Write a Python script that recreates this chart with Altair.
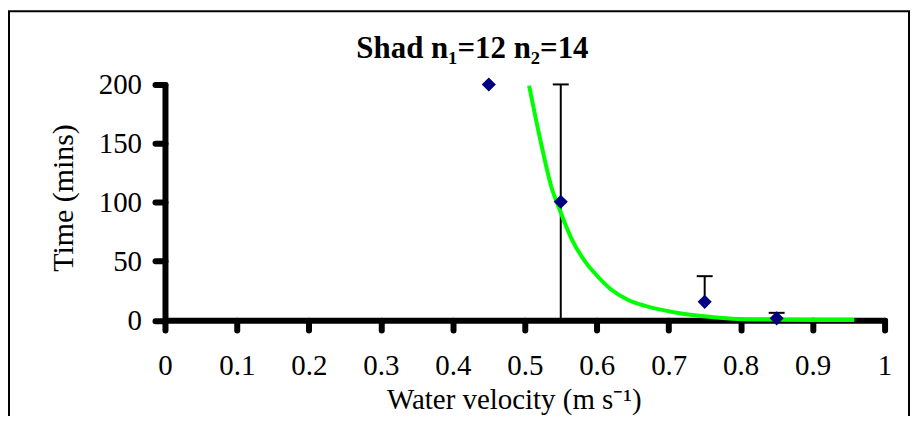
import altair as alt
import pandas as pd

# ---- data ----
pt_x = [0.45, 0.55, 0.75, 0.85]
pt_y = [200, 100.5, 15.5, 1.5]

err_x = [0.55, 0.75, 0.85]
err_lo = [0, 15.5, 1.5]
err_hi = [200, 37.3, 6.2]

fit_x = [0.506, 0.523, 0.537, 0.549, 0.565, 0.586, 0.597, 0.620, 0.643, 0.666,
         0.689, 0.713, 0.759, 0.796, 0.85, 0.90, 0.958]
fit_y = [199, 149, 113, 93, 69, 48, 40, 26, 17.3, 12.3,
         8.9, 6.1, 2.7, 1.0, 0.4, 0.2, 0.1]

x_ticks = [0, 0.1, 0.2, 0.3, 0.4, 0.5, 0.6, 0.7, 0.8, 0.9, 1]
y_ticks = [0, 50, 100, 150, 200]

title_text = "Shad n\u2081=12 n\u2082=14"
x_title = "Water velocity (m s\u207b\u00b9)"
y_title = "Time (mins)"

# ---- tables ----
pts = pd.DataFrame({"x": pt_x, "y": pt_y})
errs = pd.DataFrame({"x": err_x, "lo": err_lo, "hi": err_hi})
fit = pd.DataFrame({"x": fit_x, "y": fit_y})
one = pd.DataFrame({"t": [title_text]})

W, H = 722, 236.5
PAD = {"left": 157.5, "top": 76, "right": 25.5, "bottom": 95.5}
FONT = "Liberation Serif"

xscale = alt.Scale(domain=[0, 1], nice=False, zero=False)
yscale = alt.Scale(domain=[0, 200], nice=False)

xaxis = alt.Axis(values=x_ticks, format="~g", title=x_title, grid=False,
                 domainColor="black", domainWidth=6, domainCap="round",
                 tickColor="black", tickWidth=6, tickSize=10, tickCap="round",
                 labelFont=FONT, labelFontSize=29, labelColor="black",
                 labelPadding=22, labelFlush=False, labelOverlap=False,
                 titleFont=FONT, titleFontSize=29, titleFontWeight="normal",
                 titleColor="black", titleX=350, titleY=88.5,
                 titleAlign="center", titleBaseline="alphabetic")
yaxis = alt.Axis(values=y_ticks, title=y_title, grid=False,
                 domainColor="black", domainWidth=6, domainCap="round",
                 tickColor="black", tickWidth=6, tickSize=10, tickCap="round",
                 labelFont=FONT, labelFontSize=29, labelColor="black",
                 labelPadding=13.5, labelFlush=False, labelOverlap=False,
                 titleFont=FONT, titleFontSize=30, titleFontWeight="normal",
                 titleColor="black", titleX=-101.5, titleY=113.5, titleAngle=270,
                 titleAlign="center", titleBaseline="middle")

X = alt.X("x:Q", scale=xscale, axis=xaxis)

frame = alt.Chart(one).mark_rect(fillOpacity=0, stroke="black", strokeWidth=2).encode(
    x=alt.value(-156.5), x2=alt.value(W + 24.5),
    y=alt.value(-73.5), y2=alt.value(H + 200),
)

rules = alt.Chart(errs).mark_rule(color="black", strokeWidth=2).encode(
    x=X,
    y=alt.Y("lo:Q", scale=yscale, axis=yaxis),
    y2="hi:Q",
)

caps = alt.Chart(errs).mark_tick(orient="horizontal", color="black", size=16,
                                 thickness=2, opacity=1).encode(
    x=X,
    y=alt.Y("hi:Q", scale=yscale, axis=yaxis),
)

curve = alt.Chart(fit).mark_line(color="#00ff00", strokeWidth=4,
                                 interpolate="monotone").encode(
    x=X,
    y=alt.Y("y:Q", scale=yscale, axis=yaxis),
)

points = alt.Chart(pts).mark_point(shape="diamond", filled=True, color="#000080",
                                   size=200, opacity=1).encode(
    x=X,
    y=alt.Y("y:Q", scale=yscale, axis=yaxis),
)

title = alt.Chart(one).mark_text(font=FONT, fontSize=31, fontWeight="bold",
                                 color="black", align="center",
                                 baseline="alphabetic").encode(
    x=alt.value(308.5), y=alt.value(-27), text="t:N",
)

chart = alt.layer(frame, rules, caps, curve, points, title).properties(
    width=W, height=H,
    autosize=alt.AutoSizeParams(type="none"),
    padding=PAD,
    background="white",
).configure_view(strokeWidth=0)

chart.save("out.html", embed_options={"renderer": "svg", "actions": False})
